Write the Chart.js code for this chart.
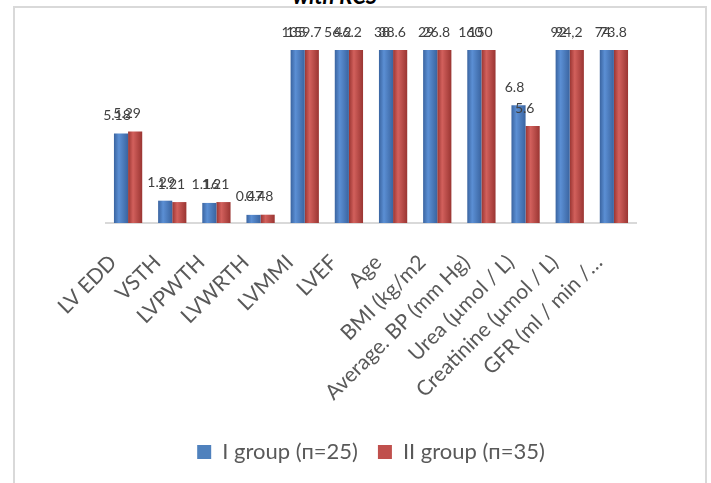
<!DOCTYPE html>
<html>
<head>
<meta charset="utf-8">
<script src="https://cdn.jsdelivr.net/npm/chart.js@4.4.1/dist/chart.umd.min.js"></script>
<style>
    html, body { margin: 0; padding: 0; background: #fff; overflow: hidden; }
    #wrap { position: relative; width: 711px; height: 483px; overflow: hidden; }
    #frame { position: absolute; left: 13px; top: 6px; width: 690px; height: 520px; border: 2px solid #d9d9d9; }
    #title { position: absolute; left: 0; width: 670px; top: -15px; text-align: center;
             font: italic bold 22px Lato, sans-serif; line-height: 22px; color: #000; }
    #chart { position: absolute; left: 0; top: 0; }
</style>
</head>
<body>
<div id="wrap">
    <div id="frame"></div>
    <div id="title">with RCS</div>
    <canvas id="chart" width="711" height="483"></canvas>
</div>
<script>
// categories and values
const categories = ['LV EDD', 'VSTH', 'LVPWTH', 'LVWRTH', 'LVMMI', 'LVEF', 'Age', 'BMI (kg/m2',
    'Average. BP (mm Hg)', 'Urea (µmol / L)', 'Creatinine (µmol / L)', 'GFR (ml / min /…'];
const groupOne = [5.18, 1.29, 1.16, 0.47, 135, 56.2, 38, 29, 160, 6.8, 92, 74];
const groupTwo = [5.29, 1.21, 1.21, 0.48, 159.7, 46.2, 38.6, 26.8, 150, 5.6, 94.2, 73.8];
const groupOneText = ['5.18', '1.29', '1.16', '0.47', '135', '56.2', '38', '29', '160', '6.8', '92', '74'];
const groupTwoText = ['5.29', '1.21', '1.21', '0.48', '159.7', '46.2', '38.6', '26.8', '150', '5.6', '94,2', '73.8'];
const seriesNames = ['I group (п=25)', 'II group (п=35)'];
const axisMax = 10;

const legendColors = ['#4F81BD', '#C0504D'];

// cylinder-ish shading across each bar
function barFill(light, dark, half) {
    return function (context) {
        const chart = context.chart;
        const xs = chart.scales.x;
        if (context.dataIndex === undefined || !xs || !chart.chartArea) return light;
        const center = xs.getPixelForValue(context.dataIndex);
        const w = (chart.chartArea.right - chart.chartArea.left) / categories.length * 0.32;
        const left = half === 0 ? center - w : center;
        const g = chart.ctx.createLinearGradient(left, 0, left + w, 0);
        g.addColorStop(0, dark);
        g.addColorStop(0.35, light);
        g.addColorStop(1, dark);
        return g;
    };
}

const barValueLabels = {
    id: 'barValueLabels',
    afterDatasetsDraw(chart) {
        const { ctx, chartArea } = chart;
        ctx.save();
        ctx.font = '14px Lato, sans-serif';
        ctx.fillStyle = '#404040';
        ctx.textAlign = 'center';
        ctx.textBaseline = 'middle';
        chart.data.datasets.forEach((ds, di) => {
            const texts = di === 0 ? groupOneText : groupTwoText;
            const shift = di === 0 ? -4 : -8;
            chart.getDatasetMeta(di).data.forEach((bar, i) => {
                const top = Math.max(bar.y, chartArea.top);
                ctx.fillText(texts[i], bar.x + shift, top - 18);
            });
        });
        ctx.restore();
    }
};

new Chart(document.getElementById('chart'), {
    type: 'bar',
    data: {
        labels: categories,
        datasets: [
            {
                label: seriesNames[0],
                data: groupOne,
                backgroundColor: barFill('#5B8FD4', '#3A64A0', 0),
                categoryPercentage: 0.64,
                barPercentage: 1,
                clip: 0,
            },
            {
                label: seriesNames[1],
                data: groupTwo,
                backgroundColor: barFill('#D2605C', '#9A3532', 1),
                categoryPercentage: 0.64,
                barPercentage: 1,
                clip: 0,
            },
        ],
    },
    options: {
        responsive: false,
        animation: false,
        devicePixelRatio: 1,
        layout: { padding: { top: 50, left: 106, right: 75, bottom: 10 } },
        plugins: {
            title: { display: false },
            tooltip: { enabled: false },
            legend: {
                position: 'bottom',
                labels: {
                    color: '#595959',
                    font: { family: 'Lato', size: 22 },
                    boxWidth: 14,
                    boxHeight: 14,
                    padding: 20,
                    generateLabels: chart => chart.data.datasets.map((ds, i) => ({
                        text: ds.label,
                        fillStyle: legendColors[i],
                        strokeStyle: legendColors[i],
                        lineWidth: 0,
                        hidden: false,
                        datasetIndex: i,
                        fontColor: '#595959',
                    })),
                },
            },
        },
        scales: {
            y: { display: false, min: 0, max: axisMax },
            x: {
                grid: { display: false, drawTicks: false },
                border: { display: true, color: '#d9d9d9', width: 2 },
                ticks: {
                    color: '#595959',
                    font: { family: 'Lato', size: 21 },
                    minRotation: 45,
                    maxRotation: 45,
                    autoSkip: false,
                    padding: 27,
                    labelOffset: -15,
                },
                afterFit(scale) { scale.height = 198; },
            },
        },
    },
    plugins: [barValueLabels],
});
</script>
</body>
</html>
